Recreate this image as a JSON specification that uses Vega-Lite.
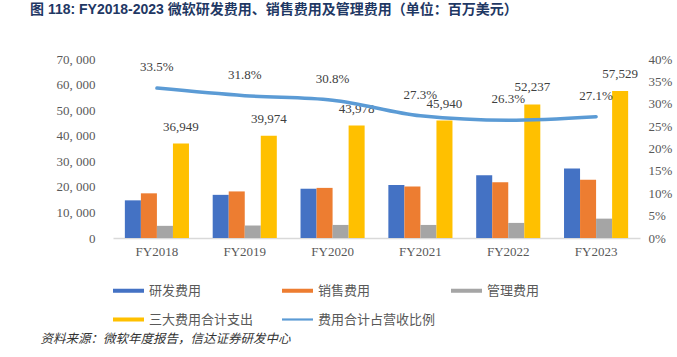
{
  "$schema": "https://vega.github.io/schema/vega-lite/v6.json",
  "autosize": {"type": "none"},
  "width": 527,
  "height": 179,
  "padding": {"left": 113, "top": 59, "right": 37, "bottom": 119},
  "background": "white",
  "config": {"view": {"stroke": null}},
  "title": {
    "text": "图 118: FY2018-2023 微软研发费用、销售费用及管理费用（单位：百万美元）",
    "anchor": "start",
    "frame": "group",
    "dx": -83,
    "offset": 36,
    "font": "Liberation Sans, Noto Sans CJK SC",
    "fontSize": 14,
    "fontWeight": "bold",
    "color": "#1F3864"
  },
  "datasets": {
    "bars": [
      {"year": "FY2018", "series": "研发费用", "value": 14726},
      {"year": "FY2018", "series": "销售费用", "value": 17469},
      {"year": "FY2018", "series": "管理费用", "value": 4754},
      {"year": "FY2018", "series": "三大费用合计支出", "value": 36949},
      {"year": "FY2019", "series": "研发费用", "value": 16876},
      {"year": "FY2019", "series": "销售费用", "value": 18213},
      {"year": "FY2019", "series": "管理费用", "value": 4885},
      {"year": "FY2019", "series": "三大费用合计支出", "value": 39974},
      {"year": "FY2020", "series": "研发费用", "value": 19269},
      {"year": "FY2020", "series": "销售费用", "value": 19598},
      {"year": "FY2020", "series": "管理费用", "value": 5111},
      {"year": "FY2020", "series": "三大费用合计支出", "value": 43978},
      {"year": "FY2021", "series": "研发费用", "value": 20716},
      {"year": "FY2021", "series": "销售费用", "value": 20117},
      {"year": "FY2021", "series": "管理费用", "value": 5107},
      {"year": "FY2021", "series": "三大费用合计支出", "value": 45940},
      {"year": "FY2022", "series": "研发费用", "value": 24512},
      {"year": "FY2022", "series": "销售费用", "value": 21825},
      {"year": "FY2022", "series": "管理费用", "value": 5900},
      {"year": "FY2022", "series": "三大费用合计支出", "value": 52237},
      {"year": "FY2023", "series": "研发费用", "value": 27195},
      {"year": "FY2023", "series": "销售费用", "value": 22759},
      {"year": "FY2023", "series": "管理费用", "value": 7575},
      {"year": "FY2023", "series": "三大费用合计支出", "value": 57529}
    ],
    "ratio": [
      {"year": "FY2018", "ratio": 0.335},
      {"year": "FY2019", "ratio": 0.318},
      {"year": "FY2020", "ratio": 0.308},
      {"year": "FY2021", "ratio": 0.273},
      {"year": "FY2022", "ratio": 0.263},
      {"year": "FY2023", "ratio": 0.271}
    ]
  },
  "encoding": {
    "x": {
      "field": "year",
      "type": "nominal",
      "sort": null,
      "scale": {"paddingInner": 0.27, "paddingOuter": 0.135},
      "axis": {
        "title": "资料来源：微软年度报告，信达证券研发中心",
        "titleX": -73,
        "titleY": 100,
        "titleAlign": "left",
        "titleAnchor": null,
        "titleBaseline": "middle",
        "titleFont": "Noto Sans CJK SC",
        "titleFontSize": 12.5,
        "titleFontWeight": "normal",
        "titleFontStyle": "italic",
        "titleColor": "#333333",
        "labelAngle": 0,
        "labelFont": "Liberation Serif",
        "labelFontSize": 13,
        "labelColor": "#595959",
        "labelPadding": 7,
        "ticks": false,
        "domainColor": "#D9D9D9",
        "domainWidth": 1.5
      }
    }
  },
  "layer": [
    {
      "data": {"name": "bars"},
      "encoding": {
        "y": {
          "field": "value",
          "type": "quantitative",
          "scale": {"domain": [0, 70000], "nice": false},
          "axis": {
            "title": null,
            "values": [0, 10000, 20000, 30000, 40000, 50000, 60000, 70000],
            "labelExpr": "replace(format(datum.value, ','), ',', ', ')",
            "labelFont": "Liberation Serif",
            "labelFontSize": 13,
            "labelColor": "#595959",
            "labelPadding": 18,
            "ticks": false,
            "domain": false,
            "grid": false
          }
        }
      },
      "layer": [
        {
          "mark": {"type": "bar"},
          "encoding": {
            "xOffset": {"field": "series", "type": "nominal", "sort": ["研发费用", "销售费用", "管理费用", "三大费用合计支出"], "scale": {"paddingInner": 0, "paddingOuter": 0}},
            "color": {
              "field": "series",
              "type": "nominal",
              "scale": {
                "domain": ["研发费用", "销售费用", "管理费用", "三大费用合计支出", "费用合计占营收比例"],
                "range": ["#4472C4", "#ED7D31", "#A5A5A5", "#FFC000", "#5B9BD5"]
              },
              "legend": {
                "title": null,
                "orient": "none",
                "legendX": 0,
                "legendY": 216,
                "direction": "horizontal",
                "columns": 3,
                "gridAlign": "all",
                "columnPadding": 15,
                "rowPadding": 6,
                "symbolType": "M-1,-0.13H1V0.13H-1Z",
                "symbolSize": 961,
                "symbolStrokeWidth": 0,
                "labelFont": "Noto Sans CJK SC",
                "labelFontSize": 13,
                "labelColor": "#595959",
                "labelOffset": 5,
                "labelLimit": 200,
                "encode": {
                  "symbols": {
                    "update": {
                      "shape": {"signal": "datum.label === '费用合计占营收比例' ? 'M-1,-0.07H1V0.07H-1Z' : 'M-1,-0.13H1V0.13H-1Z'"},
                      "fill": {"signal": "scale('color', datum.value)"},
                      "strokeWidth": {"value": 0},
                      "opacity": {"value": 1}
                    }
                  }
                }
              }
            }
          }
        },
        {
          "transform": [{"filter": "datum.series === '三大费用合计支出'"}],
          "mark": {"type": "text", "baseline": "bottom", "dy": -10, "dx": 24, "font": "Liberation Serif", "fontSize": 13, "color": "#404040"},
          "encoding": {
            "text": {"field": "value", "type": "quantitative", "format": ","}
          }
        }
      ]
    },
    {
      "data": {"name": "ratio"},
      "encoding": {
        "y": {
          "field": "ratio",
          "type": "quantitative",
          "scale": {"domain": [0, 0.4], "nice": false},
          "axis": {
            "title": null,
            "orient": "right",
            "values": [0, 0.05, 0.1, 0.15, 0.2, 0.25, 0.3, 0.35, 0.4],
            "format": ".0%",
            "labelFont": "Liberation Serif",
            "labelFontSize": 13,
            "labelColor": "#595959",
            "labelPadding": 8,
            "ticks": false,
            "domain": false,
            "grid": false
          }
        }
      },
      "layer": [
        {
          "mark": {"type": "line", "strokeWidth": 3.5, "interpolate": "monotone", "strokeCap": "round"},
          "encoding": {
            "color": {"datum": "费用合计占营收比例"}
          }
        },
        {
          "mark": {"type": "text", "baseline": "bottom", "dy": -14, "font": "Liberation Serif", "fontSize": 13, "color": "#404040"},
          "encoding": {
            "text": {"field": "ratio", "type": "quantitative", "format": ".1%"}
          }
        }
      ]
    }
  ],
  "resolve": {"scale": {"y": "independent"}}
}
